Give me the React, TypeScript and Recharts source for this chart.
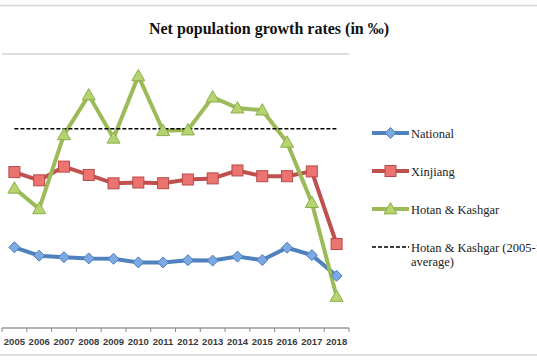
import React from 'react';
import { LineChart, Line, XAxis, YAxis, CartesianGrid } from 'recharts';

const years = ['2005', '2006', '2007', '2008', '2009', '2010', '2011', '2012', '2013', '2014', '2015', '2016', '2017', '2018'];
const national = [5.89, 5.28, 5.17, 5.08, 5.05, 4.79, 4.79, 4.95, 4.92, 5.21, 4.96, 5.86, 5.32, 3.81];
const xinjiang = [11.38, 10.78, 11.78, 11.17, 10.56, 10.62, 10.57, 10.84, 10.92, 11.5, 11.08, 11.08, 11.43, 6.13];
const hotanKashgar = [10.2, 8.7, 14.1, 17.0, 13.85, 18.4, 14.4, 14.45, 16.85, 16.05, 15.9, 13.55, 9.15, 2.3];
const hotanAverage = [14.55, 14.55, 14.55, 14.55, 14.55, 14.55, 14.55, 14.55, 14.55, 14.55, 14.55, 14.55, 14.55, 14.55];
const yTicks = [0, 2, 4, 6, 8, 10, 12, 14, 16, 18, 20];

const seriesNames = ['National', 'Xinjiang', 'Hotan & Kashgar'];
const avgLabel = ['Hotan & Kashgar (2005-15', 'average)'];

const data = years.map((y, i) => ({
  year: y,
  national: national[i],
  xinjiang: xinjiang[i],
  hotan: hotanKashgar[i],
  avg: hotanAverage[i],
}));

const BLUE = '#4F81BD';
const RED = '#C0504D';
const GREEN = '#9BBB59';

const Diamond = (props: any) => {
  const { cx, cy } = props;
  if (cx == null || cy == null) return null;
  const r = 5.5;
  return (
    <polygon
      points={`${cx},${cy - r} ${cx + r},${cy} ${cx},${cy + r} ${cx - r},${cy}`}
      fill="#7DA9E3"
      stroke="#4A7EBB"
      strokeWidth={1}
    />
  );
};

const Square = (props: any) => {
  const { cx, cy } = props;
  if (cx == null || cy == null) return null;
  const r = 5.5;
  return <rect x={cx - r} y={cy - r} width={2 * r} height={2 * r} fill="#EC7470" stroke="#B84A47" strokeWidth={1} />;
};

const Triangle = (props: any) => {
  const { cx, cy } = props;
  if (cx == null || cy == null) return null;
  const r = 6.5;
  return (
    <polygon
      points={`${cx},${cy - r} ${cx + r},${cy + r * 0.75} ${cx - r},${cy + r * 0.75}`}
      fill="#B5D46F"
      stroke="#8BAE4B"
      strokeWidth={1}
    />
  );
};

const XTick = (props: any) => {
  const { x, y, payload, index, width, visibleTicksCount } = props;
  const n = visibleTicksCount || years.length;
  const half = (width || 348) / n / 2;
  const axisY = y - 6;
  return (
    <g>
      <line x1={x - half} y1={axisY} x2={x - half} y2={axisY + 4} stroke="#888" strokeWidth={1} />
      {index === n - 1 ? (
        <line x1={x + half} y1={axisY} x2={x + half} y2={axisY + 4} stroke="#888" strokeWidth={1} />
      ) : null}
      <text x={x} y={axisY + 16.5} textAnchor="middle" fontSize={9.5} fontFamily="'Liberation Sans', Arial, sans-serif" fill="#3a3a3a" fontWeight={600}>
        {payload.value}
      </text>
    </g>
  );
};

const legendY = [133, 171, 209, 247];
const markers = [Diamond, Square, Triangle];
const colors = [BLUE, RED, GREEN];
const LF = "'Liberation Serif', 'Times New Roman', serif";

export default function App() {
  return (
    <div style={{ position: 'absolute', left: 0, top: 0, width: 537, height: 360, background: '#fff', overflow: 'hidden' }}>
      <LineChart width={537} height={360} data={data} margin={{ top: 54, right: 188, bottom: 12, left: 2 }}>
        <CartesianGrid vertical={false} stroke="#BDBDBD" strokeWidth={1} />
        <XAxis
          dataKey="year"
          scale="band"
          interval={0}
          height={20}
          tickSize={4}
          tickMargin={2}
          tickLine={false}
          axisLine={{ stroke: '#888' }}
          tick={<XTick />}
        />
        <YAxis domain={[0, 20]} ticks={yTicks} width={0} tick={false} tickLine={false} axisLine={{ stroke: '#999' }} />
        <Line dataKey="national" stroke={BLUE} strokeWidth={4} dot={<Diamond />} isAnimationActive={false} />
        <Line dataKey="xinjiang" stroke={RED} strokeWidth={4} dot={<Square />} isAnimationActive={false} />
        <Line dataKey="hotan" stroke={GREEN} strokeWidth={4} dot={<Triangle />} isAnimationActive={false} />
        <Line dataKey="avg" stroke="#000" strokeWidth={1.5} strokeDasharray="4 2" dot={false} isAnimationActive={false} />
      </LineChart>
      <svg width={537} height={360} style={{ position: 'absolute', left: 0, top: 0, pointerEvents: 'none' }}>
        <line x1={0} y1={5.5} x2={537} y2={5.5} stroke="#D6D6D6" strokeWidth={1.5} />
        <line x1={0} y1={355} x2={537} y2={355} stroke="#D6D6D6" strokeWidth={1.5} />
        <text x={269} y={33.5} textAnchor="middle" fontSize={16} fontWeight="bold" fontFamily={LF} fill="#111">
          Net population growth rates (in ‰)
        </text>
        {seriesNames.map((name, i) => {
          const M = markers[i];
          const cy = legendY[i];
          return (
            <g key={name}>
              <line x1={372} y1={cy} x2={409} y2={cy} stroke={colors[i]} strokeWidth={4} />
              <M cx={390.5} cy={cy} />
              <text x={411} y={cy + 4.5} fontSize={12.5} fontFamily={LF} fill="#222">
                {name}
              </text>
            </g>
          );
        })}
        <line x1={372} y1={legendY[3]} x2={409} y2={legendY[3]} stroke="#000" strokeWidth={1.5} strokeDasharray="4 2" />
        <text x={411} y={legendY[3] + 4.5} fontSize={12.5} fontFamily={LF} fill="#222">
          {avgLabel[0]}
        </text>
        <text x={411} y={legendY[3] + 18.5} fontSize={12.5} fontFamily={LF} fill="#222">
          {avgLabel[1]}
        </text>
      </svg>
    </div>
  );
}
